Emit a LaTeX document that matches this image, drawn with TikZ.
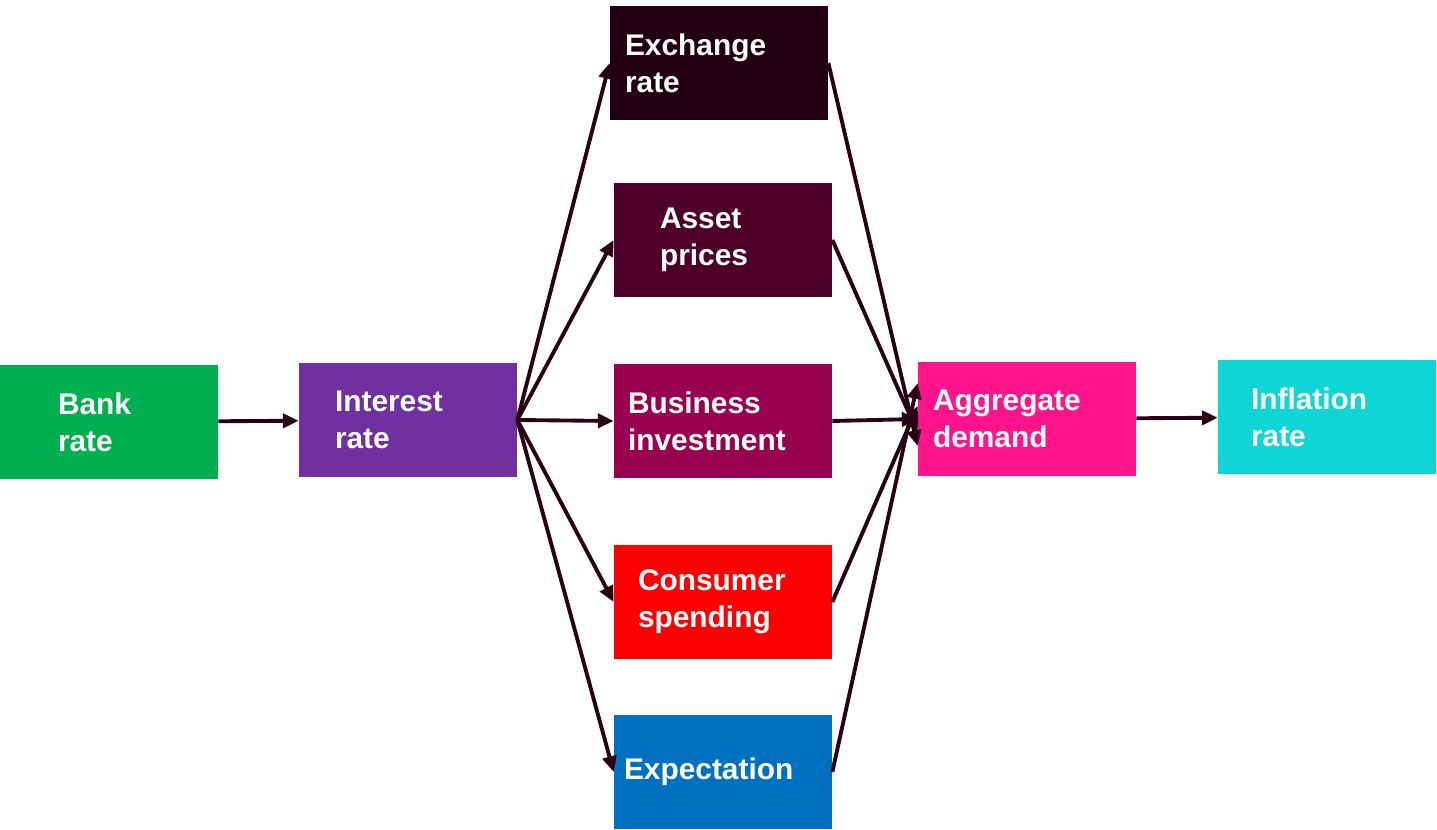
\documentclass[tikz,border=0pt]{standalone}
\usepackage{fontspec}
\setmainfont{Liberation Sans}
\usetikzlibrary{arrows.meta}
\definecolor{arrowc}{HTML}{2A0014}
\begin{document}
\begin{tikzpicture}[x=0.02cm, y=-0.02cm,
    box/.style={rectangle, minimum width=4.36cm, minimum height=2.28cm, inner xsep=#1,
      text width=4.36cm-2*#1, align=left, text=white,
      font=\fontsize{17}{21}\selectfont\bfseries},
    link/.style={draw=arrowc, line width=2.2pt, -{Triangle[length=9pt,width=8pt]}}]

  \useasboundingbox (0,0) rectangle (1437,830);

  \node[box=1.16cm, fill={rgb,255:red,0;green,176;blue,80}]   (bank) at (109,422) {Bank\\rate};
  \node[box=0.72cm, fill={rgb,255:red,112;green,48;blue,160}] (ir)   at (408,420) {Interest\\rate};
  \node[box=0.3cm,  fill={rgb,255:red,34;green,0;blue,16}]    (ex)   at (719,63)  {Exchange\\rate};
  \node[box=0.92cm, fill={rgb,255:red,78;green,0;blue,41}]    (ap)   at (723,240) {Asset\\prices};
  \node[box=0.28cm, fill={rgb,255:red,153;green,0;blue,80}]   (bi)   at (723,421) {Business\\investment};
  \node[box=0.48cm, fill={rgb,255:red,255;green,0;blue,0}]    (cs)   at (723,602) {Consumer\\spending};
  \node[box=0.2cm,  fill={rgb,255:red,0;green,112;blue,192}]  (expt) at (723,772) {Expectation};
  \node[box=0.3cm,  fill={rgb,255:red,255;green,20;blue,140}] (ad)   at (1027,419) {Aggregate\\demand};
  \node[box=0.66cm, fill={rgb,255:red,16;green,213;blue,213}] (inf)  at (1327,417) {Inflation\\rate};

  \draw[link] (bank) -- (ir);
  \foreach \t in {ex, ap, bi, cs, expt}
    \draw[link] (ir.east) -- (\t.west);
  \draw[link] (ex.east)   -- ([yshift=-0.54cm]ad.west);
  \draw[link] (ap.east)   -- ([yshift=-0.28cm]ad.west);
  \draw[link] (bi.east)   -- (ad.west);
  \draw[link] (cs.east)   -- ([yshift=0.26cm]ad.west);
  \draw[link] (expt.east) -- ([yshift=0.72cm]ad.west);
  \draw[link] (ad) -- (inf);
\end{tikzpicture}
\end{document}
